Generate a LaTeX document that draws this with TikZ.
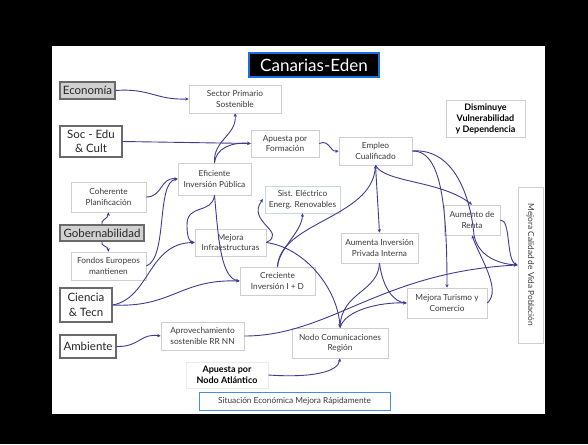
\documentclass[tikz,border=0pt]{standalone}
\usepackage{fontspec}
\setmainfont{Lato}
\usetikzlibrary{arrows.meta}
\definecolor{edge}{HTML}{3F3A92}
\definecolor{lightborder}{HTML}{CFCFCF}
\definecolor{darkborder}{HTML}{6A6A6A}
\definecolor{txt}{HTML}{3A3A3A}
\definecolor{titleblue}{HTML}{1A6FE0}
\definecolor{sistborder}{HTML}{C2DCE2}
\tikzset{
  box/.style={draw=lightborder, line width=0.6pt, fill=white, align=center, inner sep=1pt,
    text=txt, font=\fontsize{8.3}{10.5}\selectfont},
  mainbox/.style={draw=darkborder, line width=1.3pt, fill=white, align=center, inner sep=1pt,
    text=black!85, font=\fontsize{11.5}{14.5}\selectfont},
  graybox/.style={mainbox, fill=black!18},
  boldbox/.style={box, font=\fontsize{9}{11}\selectfont\bfseries, text=black},
  conn/.style={draw=edge, line width=0.9pt, -{Stealth[length=3.5pt,width=3.2pt]}},
}
\begin{document}
\begin{tikzpicture}[x=1pt,y=-1pt]
\fill[black] (0,0) rectangle (588,444);
\useasboundingbox (0,0) rectangle (588,444);
\fill[white] (52,46) rectangle (545,414);

% nodes
\node[draw=titleblue, line width=2pt, fill=black, text=white, font=\fontsize{17}{20}\selectfont,
  minimum width=130pt, minimum height=24pt, inner sep=0pt] (title) at (314,65) {Canarias-Eden};
\node[graybox, minimum width=55pt, minimum height=17pt] (econ) at (87.5,90.5) {Economía};
\node[box, minimum width=92pt, minimum height=28pt] (sector) at (235,99) {Sector Primario\\Sostenible};
\node[mainbox, minimum width=62pt, minimum height=31pt] (soc) at (91,141.5) {Soc - Edu\\\& Cult};
\node[box, minimum width=68pt, minimum height=27pt] (formacion) at (285,143.5) {Apuesta por\\Formación};
\node[box, minimum width=73pt, minimum height=28pt] (empleo) at (375.5,151) {Empleo\\Cualificado};
\node[boldbox, minimum width=79pt, minimum height=37pt] (dismin) at (485.5,118.5) {Disminuye\\Vulnerabilidad\\y Dependencia};
\node[box, minimum width=73pt, minimum height=32pt] (eficiente) at (214.5,179) {Eficiente\\Inversión Pública};
\node[box, minimum width=75pt, minimum height=30pt] (coherente) at (108.5,197) {Coherente\\Planificación};
\node[box, draw=sistborder, minimum width=75pt, minimum height=27pt] (sist) at (302.5,199.5) {Sist. Eléctrico\\Energ. Renovables};
\node[graybox, minimum width=84pt, minimum height=16pt] (gob) at (102,233) {Gobernabilidad};
\node[box, minimum width=71pt, minimum height=27pt] (mejinfra) at (230.5,242.5) {Mejora\\Infraestructuras};
\node[box, minimum width=75pt, minimum height=28pt] (fondos) at (108.5,266) {Fondos Europeos\\mantienen};
\node[box, minimum width=77pt, minimum height=30pt] (aumenta) at (379.5,248) {Aumenta Inversión\\Privada Interna};
\node[box, minimum width=56pt, minimum height=30pt] (renta) at (472,220) {Aumento de\\Renta};
\node[box, rotate=-90, minimum width=156pt, minimum height=25pt] (calidad) at (530.5,265) {Mejora Calidad de Vida Población};
\node[box, minimum width=75pt, minimum height=28pt] (creciente) at (277.5,281) {Creciente\\Inversión I + D};
\node[mainbox, minimum width=52pt, minimum height=34pt] (ciencia) at (86,305) {Ciencia\\\& Tecn};
\node[box, minimum width=80pt, minimum height=30pt] (turismo) at (447,303) {Mejora Turismo y\\Comercio};
\node[mainbox, minimum width=56pt, minimum height=23pt] (ambiente) at (88,346.5) {Ambiente};
\node[box, minimum width=83pt, minimum height=28pt] (aprov) at (202.5,336) {Aprovechamiento\\sostenible RR NN};
\node[box, minimum width=96pt, minimum height=30pt] (nodo) at (340,343) {Nodo Comunicaciones\\Región};
\node[boldbox, draw=black!8, minimum width=82pt, minimum height=26pt] (nodoatl) at (227,375) {Apuesta por\\Nodo Atlántico};
\node[box, draw=titleblue!80, line width=1pt, minimum width=191pt, minimum height=18pt] (situacion) at (294.5,401) {Situación Económica Mejora Rápidamente};
\coordinate (cal) at (517.5,265);

% connectors
\draw[conn] (econ.east) .. controls (150,88) and (155,100) .. (sector.west);
\draw[conn] (eficiente.north) .. controls (213,140) and (237,135) .. (sector.south);
\draw[conn] (soc.east) -- (formacion.west);
\draw[conn] (eficiente.north) .. controls (216,148) and (232,142) .. (formacion.west);
\draw[conn] (formacion.east) .. controls (329,139) and (330,152) .. (empleo.west);
\draw[conn] (coherente.east) .. controls (163,197) and (160,177) .. (eficiente.west);
\draw[conn] (fondos.east) .. controls (168,258) and (156,182) .. (eficiente.west);
\draw[conn] (gob.north) .. controls (100,220) and (108,219) .. (coherente.south);
\draw[conn] (gob.south) .. controls (100,246) and (108,246) .. (fondos.north);
\draw[conn] (eficiente.south) .. controls (212,215) and (186,203) .. (187,226) .. controls (187,238) and (190,242) .. (mejinfra.west);
\draw[conn] (eficiente.south) .. controls (218,232) and (220,278) .. (creciente.west);
\draw[conn] (ciencia.east) .. controls (150,298) and (148,243) .. (mejinfra.west);
\draw[conn] (ciencia.east) .. controls (172,308) and (180,279) .. (creciente.west);
\draw[conn] (mejinfra.east) .. controls (288,232) and (246,222) .. (263,199);
\draw[conn] (creciente.north) .. controls (279,248) and (302,232) .. (sist.south);
\draw[conn] (creciente.north) .. controls (280,222) and (372,218) .. (empleo.south);
\draw[conn] (empleo.south) -- (aumenta.north);
\draw[conn] (empleo.south) .. controls (385,183) and (440,180) .. (renta.north);
\draw[conn] (empleo.east) .. controls (440,150) and (447,200) .. (turismo.north);
\draw[conn] (empleo.east) .. controls (452,148) and (470,192) .. (474,235) .. controls (478,257) and (500,264) .. (cal);
\draw[conn] (renta.east) .. controls (511,219) and (506,260) .. (cal);
\draw[conn] (turismo.east) .. controls (502,290) and (480,258) .. (renta.south);
\draw[conn] (aprov.east) .. controls (330,336) and (380,272) .. (cal);
\draw[conn] (mejinfra.east) .. controls (306,248) and (338,290) .. (nodo.north);
\draw[conn] (aumenta.south) .. controls (378,292) and (342,292) .. (nodo.north);
\draw[conn] (aumenta.south) .. controls (383,290) and (395,302) .. (turismo.west);
\draw[conn] (nodo.north) .. controls (345,310) and (380,302) .. (turismo.west);
\draw[conn] (nodoatl.east) .. controls (312,378) and (338,372) .. (nodo.south);
\draw[conn] (ambiente.east) .. controls (140,347) and (140,333) .. (aprov.west);
\end{tikzpicture}
\end{document}
